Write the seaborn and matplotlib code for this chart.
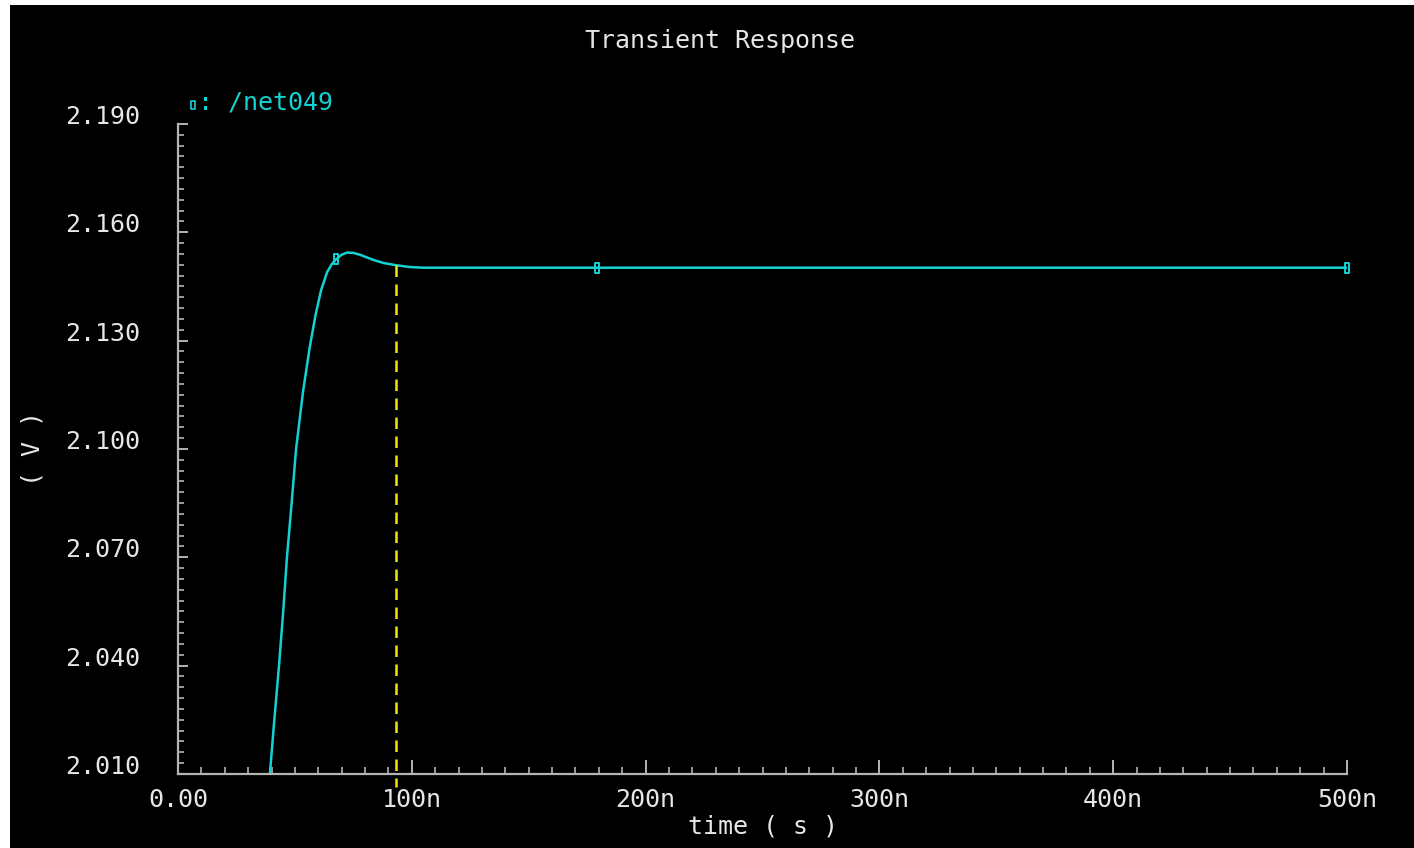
import numpy as np
import pandas as pd
import matplotlib
matplotlib.use("Agg")
import matplotlib.pyplot as plt
from matplotlib.path import Path
from matplotlib.patches import Rectangle
from matplotlib.ticker import MultipleLocator, FuncFormatter
import seaborn as sns

# Transient waveform of /net049 (time in ns, voltage in V)
time_ns = [37.0, 39.3, 41.2, 43.2, 45.0, 46.6, 48.6, 50.5, 53.5, 56.3, 58.8,
           61.2, 63.8, 65.8, 67.6, 70.0, 72.3, 75.0, 77.8, 81.0, 84.3, 88.0,
           93.2, 99.0, 105.0, 115.0, 130.0, 179.2, 300.0, 500.0]
voltage = [1.995, 2.010, 2.025, 2.040, 2.055, 2.070, 2.085, 2.100, 2.116, 2.128, 2.137,
           2.1440, 2.1490, 2.1512, 2.1525, 2.1538, 2.1544, 2.1543, 2.1538, 2.1530, 2.1522, 2.1515,
           2.1509, 2.1504, 2.1502, 2.1502, 2.1502, 2.1502, 2.1502, 2.1502]
marker_times = [67.6, 179.2, 500.0]
cursor_time = 93.2

y_ticks = [2.010, 2.040, 2.070, 2.100, 2.130, 2.160, 2.190]
x_ticks = [0, 100, 200, 300, 400, 500]

title = "Transient Response"
trace_name = "/net049"

CYAN = "#14d2d2"
GREY = "#b4b4b4"
TXT = "#e6e6e6"
YELLOW = "#f2e600"

sns.set_theme(style="dark")
plt.rcParams["font.family"] = ["DejaVu Sans Mono", "DejaVu Sans"]

fig = plt.figure(figsize=(14.14, 8.48), dpi=100, facecolor="white")
fig.patches.append(Rectangle((10 / 1414, 0), 1 - 10 / 1414, 1 - 5 / 848,
                             transform=fig.transFigure, facecolor="black",
                             edgecolor="none", zorder=-10))
ax = fig.add_axes([178 / 1414, 1 - 774 / 848, (1347 - 178) / 1414, (774 - 124) / 848])
ax.set_facecolor("black")

df = pd.DataFrame({"time": time_ns, "voltage": voltage})
sns.lineplot(data=df, x="time", y="voltage", ax=ax, color=CYAN, linewidth=1.8,
             estimator=None, sort=True)

# tall rectangular point markers
rect = Path([(-0.45, -1), (0.45, -1), (0.45, 1), (-0.45, 1), (-0.45, -1)],
            [Path.MOVETO, Path.LINETO, Path.LINETO, Path.LINETO, Path.CLOSEPOLY])
mv = np.interp(marker_times, time_ns, voltage)
ax.plot(marker_times, mv, linestyle="none", marker=rect, markersize=7,
        markerfacecolor="none", markeredgecolor=CYAN, markeredgewidth=1.4,
        clip_on=False, zorder=5)

# cursor line
cv = np.interp(cursor_time, time_ns, voltage)
ax.plot([cursor_time, cursor_time], [cv, 2.0064], color=YELLOW, linewidth=1.8,
        linestyle=(0, (4.6, 3.0)), clip_on=False, zorder=4)

ax.set_xlim(0, 500)
ax.set_ylim(2.010, 2.190)
ax.set_xticks(x_ticks)
ax.set_yticks(y_ticks)
ax.xaxis.set_minor_locator(MultipleLocator(10))
ax.yaxis.set_minor_locator(MultipleLocator(0.003))
ax.xaxis.set_major_formatter(FuncFormatter(lambda v, p: "0.00" if v == 0 else f"{int(v)}n"))
ax.yaxis.set_major_formatter(FuncFormatter(lambda v, p: f"{v:.3f}"))
ax.grid(False)

for side in ("top", "right"):
    ax.spines[side].set_visible(False)
for side in ("left", "bottom"):
    ax.spines[side].set_visible(True)
    ax.spines[side].set_color(GREY)
    ax.spines[side].set_linewidth(1.6)

ax.tick_params(axis="x", which="major", direction="in", length=10, width=1.4,
               color=GREY, labelcolor=TXT, labelsize=18, pad=10, bottom=True)
ax.tick_params(axis="x", which="minor", direction="in", length=5, width=1.2,
               color=GREY, bottom=True)
ax.tick_params(axis="y", which="major", direction="in", length=7, width=1.4,
               color=GREY, labelcolor=TXT, labelsize=18, pad=27, left=True)
ax.tick_params(axis="y", which="minor", direction="in", length=4, width=1.2,
               color=GREY, left=True)
for lbl in ax.get_yticklabels():
    lbl.set_verticalalignment("baseline")

ax.set_xlabel("time ( s )", color=TXT, fontsize=18, labelpad=2)
ax.set_ylabel("( V )", color=TXT, fontsize=18, labelpad=15)
fig.text(720 / 1414, 1 - 41 / 848, title, color=TXT, fontsize=18,
         ha="center", va="center")

# trace legend
fig.lines.append(plt.Line2D([193 / 1414], [1 - 105 / 848], transform=fig.transFigure,
                            marker=rect, markersize=6, markerfacecolor="none",
                            markeredgecolor=CYAN, markeredgewidth=1.2, linestyle="none"))
fig.text(198 / 1414, 1 - 102 / 848, ": " + trace_name, color=CYAN, fontsize=18,
         ha="left", va="center")

fig.savefig("out.png", dpi=100, facecolor=fig.get_facecolor())
